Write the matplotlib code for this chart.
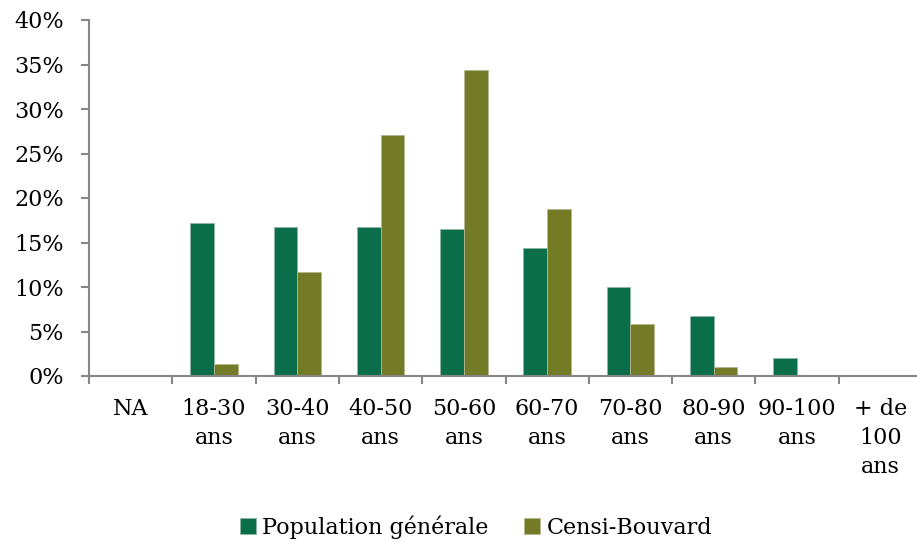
import matplotlib
matplotlib.use("Agg")
import matplotlib.pyplot as plt
import numpy as np
from matplotlib.ticker import FuncFormatter

plt.rcParams['font.family'] = ['DejaVu Serif']

# categories d'age
categories = ['NA', '18-30\nans', '30-40\nans', '40-50\nans', '50-60\nans',
              '60-70\nans', '70-80\nans', '80-90\nans', '90-100\nans', '+ de\n100\nans']
pop_generale = [0, 17.2, 16.7, 16.7, 16.5, 14.35, 10.0, 6.7, 2.0, 0]
censi_bouvard = [0, 1.4, 11.65, 27.1, 34.4, 18.8, 5.85, 1.0, 0, 0]

green = '#0b6e4a'
olive = '#747b27'
axis_grey = '#868686'
fs = 16

fig = plt.figure(figsize=(9.17, 5.42), dpi=100)
ax = fig.add_axes([89/917, (542-376)/542, (922-89)/917, (376-20)/542])

x = np.arange(len(categories))
w = 0.284
ax.bar(x - w/2, pop_generale, w, color=green, edgecolor='#8fb5a5', linewidth=0.6, label='Population générale')
ax.bar(x + w/2, censi_bouvard, w, color=olive, edgecolor='#b5b88f', linewidth=0.6, label='Censi-Bouvard')

ax.set_xlim(-0.5, len(categories) - 0.5)
ax.set_ylim(0, 40)
ax.set_yticks(np.arange(0, 41, 5))
ax.yaxis.set_major_formatter(FuncFormatter(lambda v, p: '%d%%' % v))

ax.set_xticks(np.arange(-0.5, len(categories), 1.0), minor=False)
ax.set_xticklabels([])
ax.set_xticks(x, minor=True)
ax.set_xticklabels(categories, minor=True, linespacing=1.4)
ax.tick_params(axis='x', which='minor', length=0, pad=16, labelsize=fs)
ax.tick_params(axis='x', which='major', length=6, width=1.5, color=axis_grey)
ax.tick_params(axis='y', length=6, width=1.5, color=axis_grey, pad=12, labelsize=fs)

for s in ['top', 'right']:
    ax.spines[s].set_visible(False)
for s in ['left', 'bottom']:
    ax.spines[s].set_color(axis_grey)
    ax.spines[s].set_linewidth(1.5)

fig.legend(loc='center', bbox_to_anchor=(476/917, 1 - 527/542), ncol=2, frameon=False,
           fontsize=fs, handlelength=0.7, handleheight=0.7, handletextpad=0.3,
           columnspacing=1.6)

fig.savefig('out.png', dpi=100)
